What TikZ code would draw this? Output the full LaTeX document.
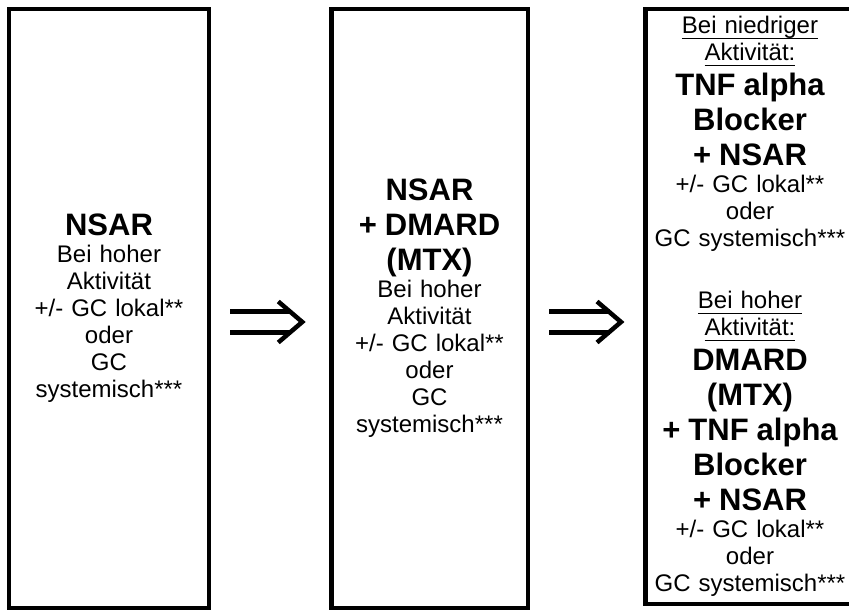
\documentclass[tikz,border=0pt]{standalone}
\usepackage{fontspec}
\setmainfont{Liberation Sans}
\usetikzlibrary{calc}
\setlength{\parindent}{0pt}
\newcommand{\fett}[1]{{\fontsize{31}{35}\selectfont\bfseries #1\par}}
\newcommand{\unter}[1]{\setbox0=\hbox{#1}\leavevmode\rlap{\vrule width\wd0 height -4pt depth 5.5pt}\box0}
\tikzset{
    stufe/.style = {
    	draw,
    	line width=4.5pt,
    	inner sep=0pt,
    	align=center,
    	font=\fontsize{24}{27}\selectfont
    },
    rahmen/.style = {
    	line width=4.5pt
    },
    doppel/.style = {
    	double,
    	line width=4.5pt,
    	double distance=16.5pt
    },
    spitze/.style = {
    	line width=4.5pt,
    	miter limit=10
    }
}

\begin{document}
\begin{tikzpicture}[x=1pt,y=1pt]

	% Rahmen
	\useasboundingbox (0,0) rectangle (849,610);
	\clip (0,0) rectangle (849,610);

	% Stufen
	\node[stufe, text width=190pt, minimum width=200pt, minimum height=599pt] (links) at (109,301.5) {
		\fett{NSAR}
		Bei hoher\par
		Aktivität\par
		+/- GC lokal**\par
		oder\par
		GC\par
		systemisch***\par
	};
	\node[stufe, text width=190pt, minimum width=196.5pt, minimum height=599pt] (mitte) at (429.5,301.5) {
		\fett{NSAR}
		\fett{+ DMARD}
		\fett{(MTX)}
		Bei hoher\par
		Aktivität\par
		+/- GC lokal**\par
		oder\par
		GC\par
		systemisch***\par
	};
	\node[stufe, draw=none, outer sep=0pt, text width=205pt, minimum width=209pt, minimum height=595pt] (rechts) at (750,303.5) {
		\unter{Bei niedriger}\par
		\unter{Aktivität:}\par
		\fett{TNF alpha}
		\fett{Blocker}
		\fett{+ NSAR}
		+/- GC lokal**\par
		oder\par
		GC systemisch***\par
		\vspace{35pt}
		\unter{Bei hoher}\par
		\unter{Aktivität:}\par
		\fett{DMARD}
		\fett{(MTX)}
		\fett{+ TNF alpha}
		\fett{Blocker}
		\fett{+ NSAR}
		+/- GC lokal**\par
		oder\par
		GC systemisch***\par
	};
	% rechter Rand liegt ausserhalb des Bildes
	\draw[rahmen] ($(rechts.north west)+(240,0)$) -- (rechts.north west) -- (rechts.south west) -- ($(rechts.south west)+(240,0)$);

	% Pfeile
	\coordinate (a1) at ($(links.east)+(19,-13.5)$);
	\coordinate (t1) at ($(a1)+(72,0)$);
	\coordinate (a2) at ($(mitte.east)+(19,-13.5)$);
	\coordinate (t2) at ($(a2)+(72,0)$);

	\draw[doppel] (a1) -- ($(t1)+(-11,0)$);
	\draw[spitze] ($(t1)+(-24,20.5)$) -- (t1) -- ($(t1)+(-24,-20.5)$);

	\draw[doppel] (a2) -- ($(t2)+(-11,0)$);
	\draw[spitze] ($(t2)+(-24,20.5)$) -- (t2) -- ($(t2)+(-24,-20.5)$);

\end{tikzpicture}
\end{document}
